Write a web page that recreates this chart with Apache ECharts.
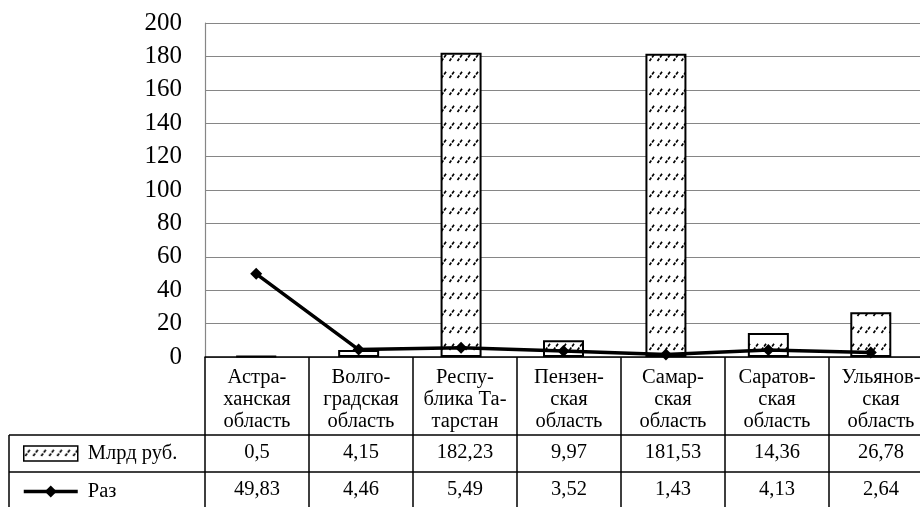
<!DOCTYPE html>
<html>
<head>
<meta charset="utf-8">
<script src="https://cdn.jsdelivr.net/npm/echarts@6/dist/echarts.min.js"></script>
<style>
  html, body { margin: 0; padding: 0; background: #fff; }
  #main { width: 920px; height: 507px; }
</style>
</head>
<body>
<div id="main"></div>
<script>
// подписи категорий (шапка таблицы)
var categories = [
  'Астра-\nханская\nобласть',
  'Волго-\nградская\nобласть',
  'Респу-\nблика Та-\nтарстан',
  'Пензен-\nская\nобласть',
  'Самар-\nская\nобласть',
  'Саратов-\nская\nобласть',
  'Ульянов-\nская\nобласть'
];
var seriesNames = ['Млрд руб.', 'Раз'];
var billions = [0.5, 4.15, 182.23, 9.97, 181.53, 14.36, 26.78];
var times = [49.83, 4.46, 5.49, 3.52, 1.43, 4.13, 2.64];
var yTicks = [0, 20, 40, 60, 80, 100, 120, 140, 160, 180, 200];

var FONT = '"Liberation Serif", "Times New Roman", serif';

// штриховка столбцов
function makePattern() {
  var c = document.createElement('canvas');
  c.width = 8;
  c.height = 17;
  var ctx = c.getContext('2d');
  ctx.fillStyle = '#fff';
  ctx.fillRect(0, 0, 8, 17);
  ctx.strokeStyle = '#000';
  ctx.lineWidth = 1.7;
  ctx.beginPath();
  ctx.moveTo(1.5, 10);
  ctx.lineTo(3.3, 7.5);
  ctx.moveTo(4.1, 6.4);
  ctx.lineTo(6, 3.8);
  ctx.stroke();
  return c;
}

function fmt(v) {
  return String(v).replace('.', ',');
}

var chart = echarts.init(document.getElementById('main'));

chart.setOption({
  backgroundColor: '#fff',
  animation: false,
  textStyle: { fontFamily: FONT },
  grid: [
    { left: 205, top: 23, width: 717, height: 334, outerBoundsMode: 'none', containLabel: false },
    { left: 205, top: 356, width: 728, height: 1, outerBoundsMode: 'none', containLabel: false }
  ],
  legend: {
    orient: 'vertical',
    left: 22,
    top: 443,
    padding: 0,
    itemWidth: 54,
    itemHeight: 15,
    itemGap: 17,
    selectedMode: false,
    textStyle: { fontFamily: FONT, fontSize: 20.5, color: '#000', padding: [0, 0, 0, 5] },
    data: [
      { name: seriesNames[0], icon: 'rect', itemStyle: { borderWidth: 1.5 } },
      { name: seriesNames[1], lineStyle: { width: 3.5 } }
    ]
  },
  xAxis: [
    {
      gridIndex: 0,
      type: 'category',
      data: categories,
      axisLine: { show: false },
      axisTick: { show: false },
      axisLabel: { show: false }
    },
    {
      // шапка таблицы и вертикальные линии
      gridIndex: 1,
      type: 'category',
      position: 'bottom',
      data: categories,
      axisLine: { show: true, lineStyle: { color: '#000', width: 1.5 } },
      axisTick: { show: true, length: 151, lineStyle: { color: '#000', width: 1.5 } },
      axisLabel: {
        interval: 0,
        margin: 10,
        fontFamily: FONT,
        fontSize: 20.5,
        lineHeight: 22,
        color: '#000',
        align: 'center'
      }
    },
    {
      gridIndex: 1,
      type: 'category',
      position: 'bottom',
      data: categories,
      axisLine: { show: false },
      axisTick: { show: false },
      axisLabel: {
        interval: 0,
        margin: 96,
        verticalAlign: 'middle',
        fontFamily: FONT,
        fontSize: 20.5,
        color: '#000',
        formatter: function (v, i) { return fmt(billions[i]); }
      }
    },
    {
      gridIndex: 1,
      type: 'category',
      position: 'bottom',
      data: categories,
      axisLine: { show: false },
      axisTick: { show: false },
      axisLabel: {
        interval: 0,
        margin: 133,
        verticalAlign: 'middle',
        fontFamily: FONT,
        fontSize: 20.5,
        color: '#000',
        formatter: function (v, i) { return fmt(times[i]); }
      }
    }
  ],
  yAxis: [
    {
      gridIndex: 0,
      type: 'value',
      min: yTicks[0],
      max: yTicks[yTicks.length - 1],
      interval: 20,
      axisLine: { show: true, lineStyle: { color: '#868686', width: 1.2 } },
      axisTick: { show: false },
      splitLine: { lineStyle: { color: '#868686', width: 1.2 } },
      axisLabel: { margin: 23, fontFamily: FONT, fontSize: 25, color: '#000' }
    },
    {
      gridIndex: 1,
      type: 'value',
      show: false
    }
  ],
  graphic: [
    { type: 'line', shape: { x1: 9, y1: 435, x2: 920, y2: 435 }, style: { stroke: '#000', lineWidth: 1.5 } },
    { type: 'line', shape: { x1: 9, y1: 472, x2: 920, y2: 472 }, style: { stroke: '#000', lineWidth: 1.5 } },
    { type: 'line', shape: { x1: 9, y1: 435, x2: 9, y2: 507 }, style: { stroke: '#000', lineWidth: 1.5 } }
  ],
  series: [
    {
      name: seriesNames[0],
      type: 'bar',
      xAxisIndex: 0,
      yAxisIndex: 0,
      data: billions,
      barWidth: 41,
      itemStyle: {
        color: { image: makePattern(), repeat: 'repeat' },
        borderColor: '#000',
        borderWidth: 2
      }
    },
    {
      name: seriesNames[1],
      type: 'line',
      xAxisIndex: 0,
      yAxisIndex: 0,
      data: times,
      z: 5,
      symbol: 'diamond',
      symbolSize: 12,
      lineStyle: { color: '#000', width: 3.5 },
      itemStyle: { color: '#000' }
    }
  ]
});
</script>
</body>
</html>
